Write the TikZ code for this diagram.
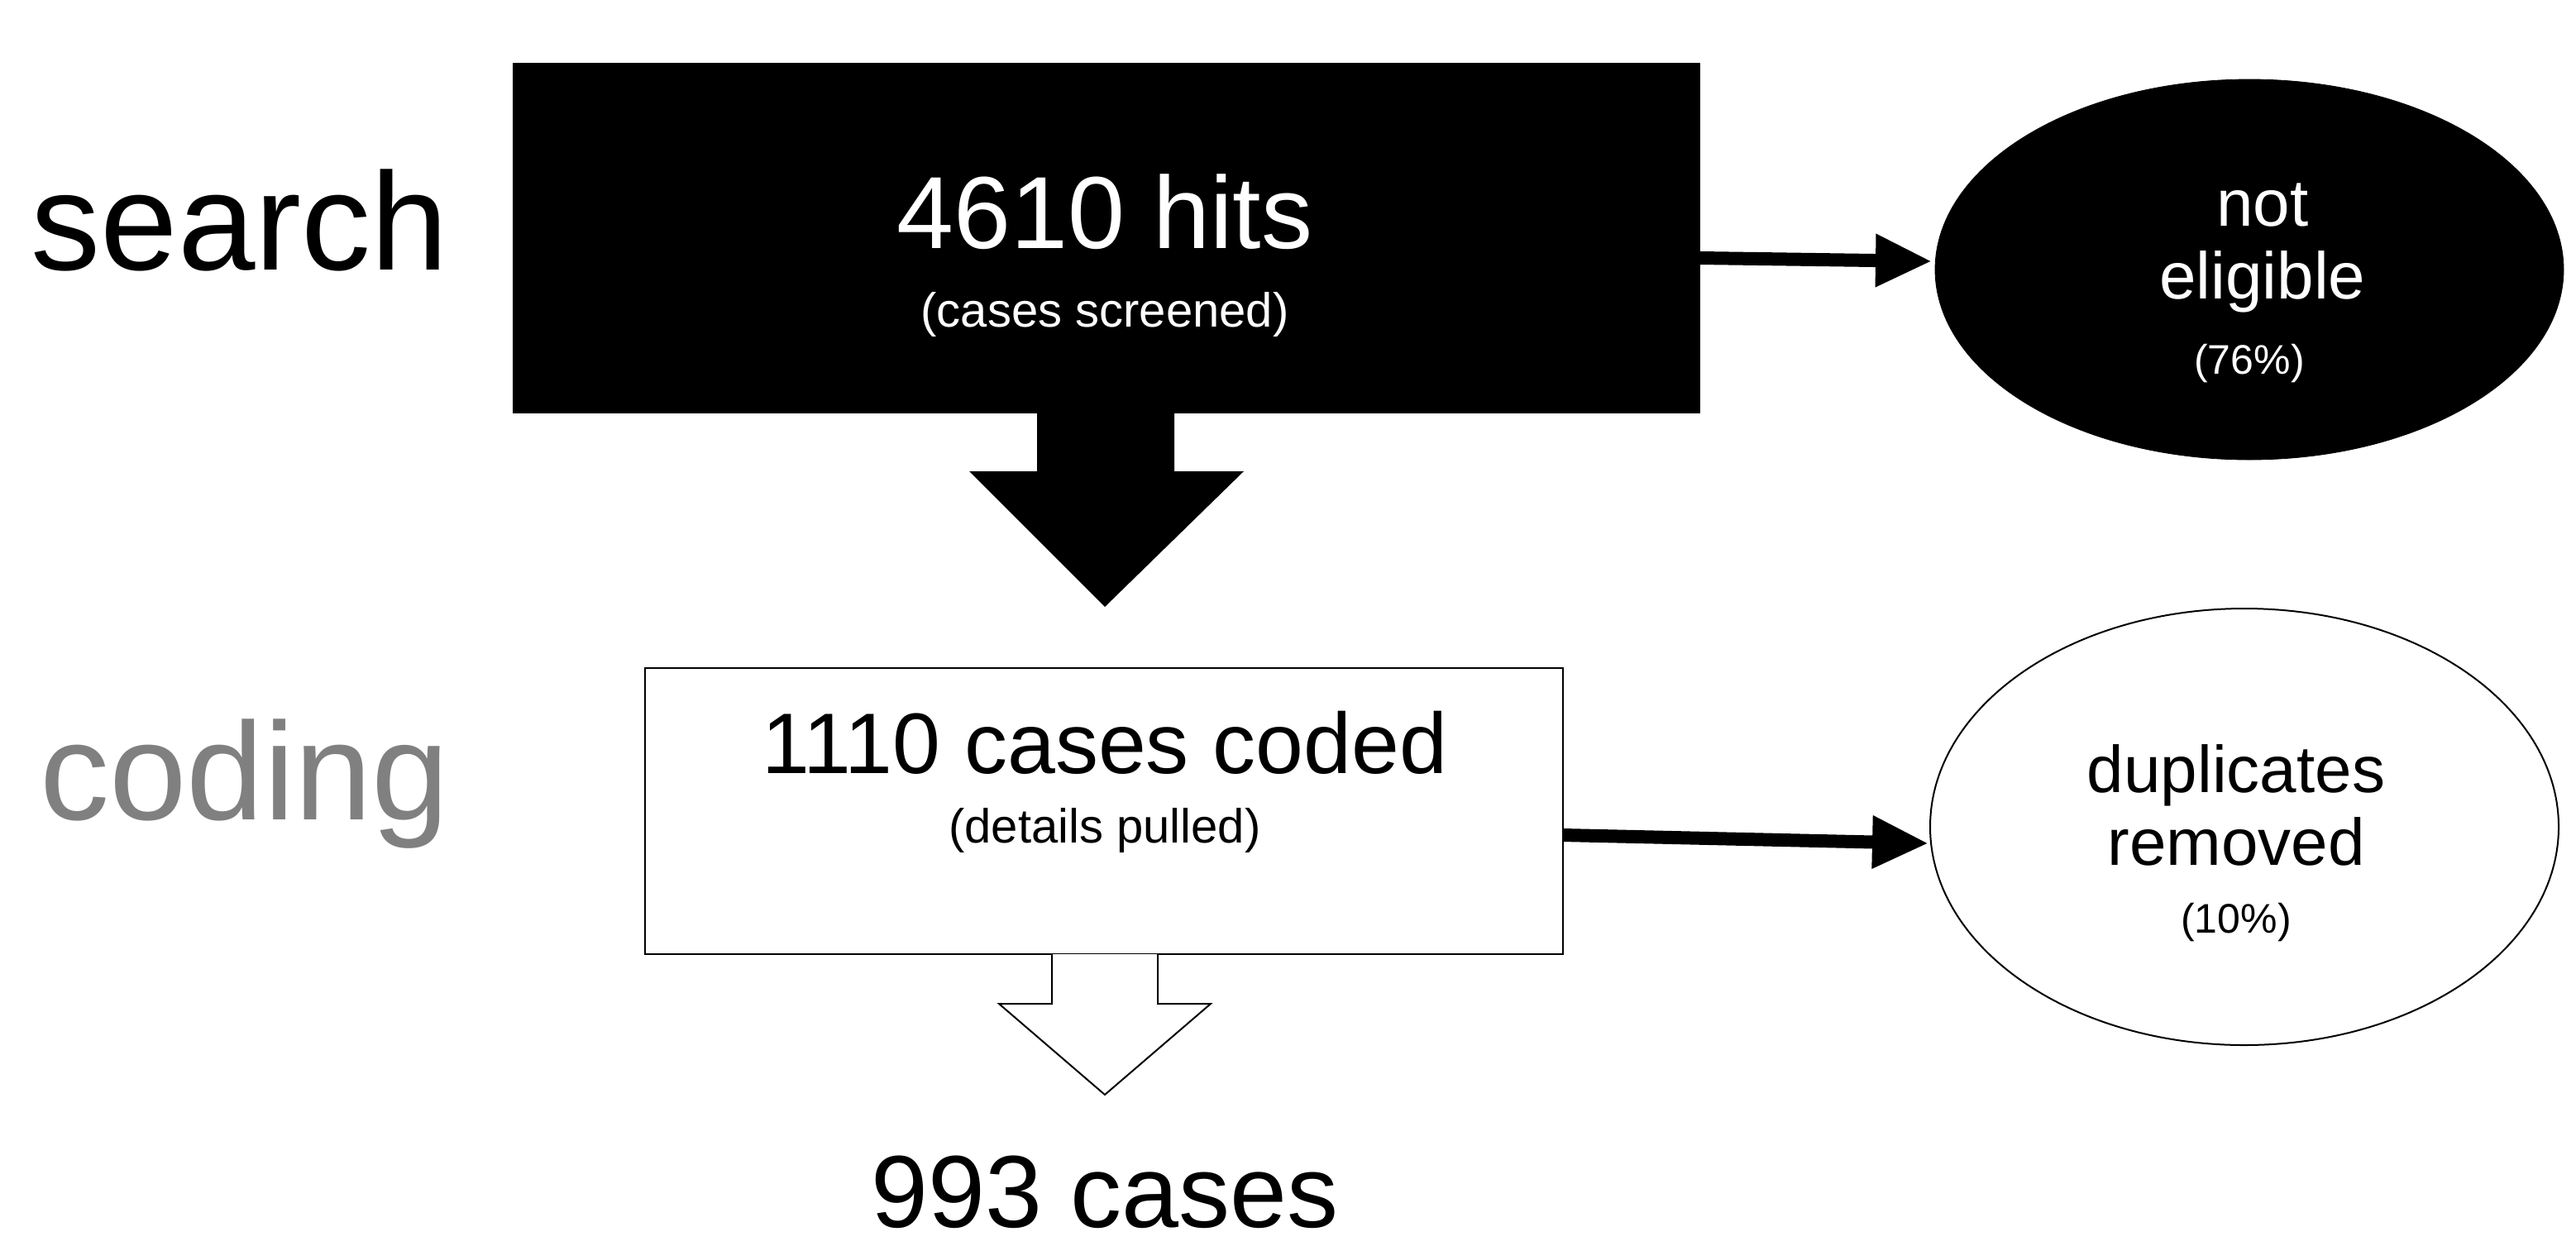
\documentclass[tikz,border=0pt]{standalone}
\usepackage{fontspec}
\setmainfont{Liberation Sans}
\usetikzlibrary{arrows.meta,shapes.geometric}
\begin{document}
\begin{tikzpicture}[x=1pt,y=-1pt,
  ar/.style={line width=8pt,-{Triangle[length=34pt,width=30pt]}},
  lab/.style={anchor=center,inner sep=0pt}]
\useasboundingbox (0,0) rectangle (1557.5,753);
\fill[black] (310,38) rectangle (1028,250);
\node[lab,white,font=\fontsize{62}{70}\selectfont] (t1) at (668,128) {4610 hits};
\node[lab,white,font=\fontsize{29}{34}\selectfont] (t1b) at (668,190) {(cases screened)};
\fill[black] (627,249) -- (710,249) -- (710,285) -- (752,285) -- (668,367) -- (586,285) -- (627,285) -- cycle;
\node[draw,fill=black,ellipse,minimum width=380pt,minimum height=230pt] (e1) at (1360,163) {};
\node[lab,white,font=\fontsize{40}{46}\selectfont,align=center] (e1t) at (1368,150) {not\\[-2pt]eligible};
\node[lab,white,font=\fontsize{25}{30}\selectfont] (e1p) at (1360,220) {(76\%)};
\coordinate (a1) at (1028,156);
\coordinate (b1) at (1168,158);
\draw[ar] (a1) -- (b1);
\node[draw,line width=1pt,minimum width=555pt,minimum height=173pt] (w) at (667.5,490.5) {};
\node[lab,font=\fontsize{52}{60}\selectfont] (t2) at (668,449) {1110 cases coded};
\node[lab,font=\fontsize{29}{34}\selectfont] (t2b) at (668,502) {(details pulled)};
\draw[line width=1pt,fill=white] (636,577) -- (636,607) -- (604,607) -- (668,662) -- (732,607) -- (700,607) -- (700,577);
\node[draw,line width=1pt,ellipse,minimum width=380pt,minimum height=264pt] (e2) at (1357,500) {};
\node[lab,font=\fontsize{40}{46}\selectfont,align=center] (e2t) at (1352,487) {duplicates\\[-2pt]removed};
\node[lab,font=\fontsize{25}{30}\selectfont] (e2p) at (1352,558) {(10\%)};
\coordinate (a2) at (945,505);
\coordinate (b2) at (1166,510);
\draw[ar] (a2) -- (b2);
\node[lab,font=\fontsize{84}{90}\selectfont] (s) at (145,133) {search};
\node[lab,font=\fontsize{84}{90}\selectfont,text=black!50] (c) at (148,474) {coding};
\node[lab,font=\fontsize{62}{70}\selectfont] (n) at (668,721) {993 cases};
\end{tikzpicture}
\end{document}
